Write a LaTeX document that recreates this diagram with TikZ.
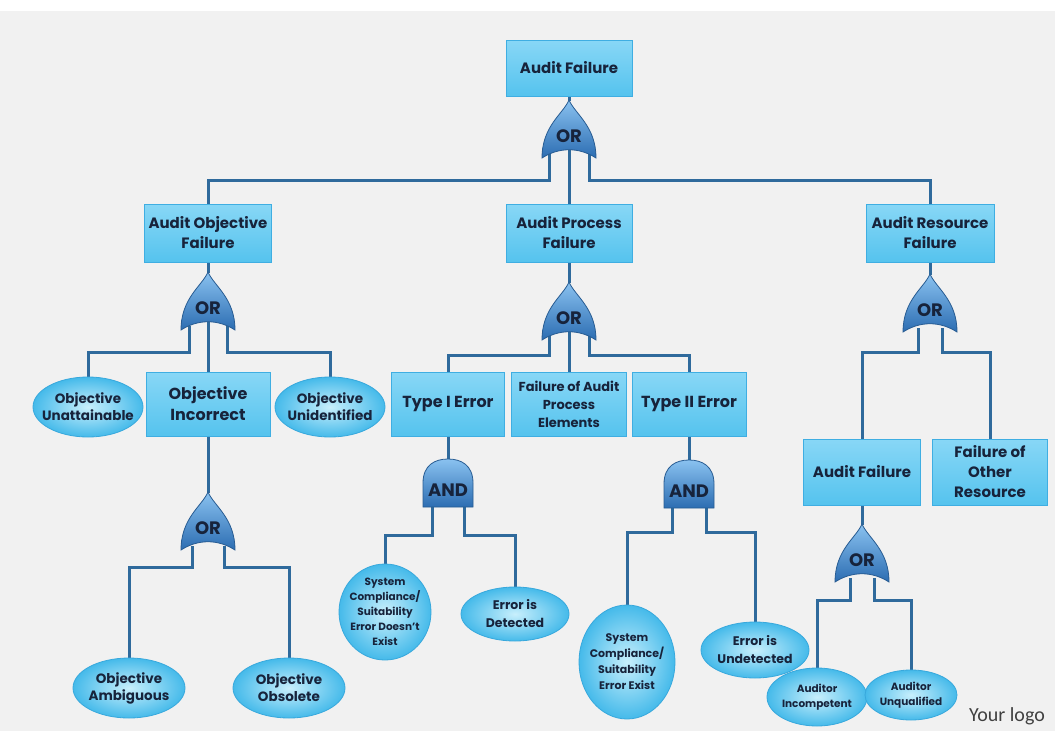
\documentclass[tikz,border=0pt]{standalone}
\usepackage{fontspec}
\setmainfont{Poppins}
\newfontfamily\logofont{Carlito}
\usetikzlibrary{shapes.geometric}

\definecolor{bgc}{HTML}{F1F1F1}
\definecolor{boxtop}{HTML}{88D7F6}
\definecolor{boxbot}{HTML}{55C3EE}
\definecolor{boxedge}{HTML}{3FAEE2}
\definecolor{leafin}{HTML}{C8EFFC}
\definecolor{leafout}{HTML}{45BAEA}
\definecolor{leafedge}{HTML}{38A8DC}
\definecolor{gatetop}{HTML}{8AC2F0}
\definecolor{gatebot}{HTML}{2C6DB2}
\definecolor{gateedge}{HTML}{285C92}
\definecolor{wire}{HTML}{2F6A9C}
\definecolor{ink}{HTML}{17233B}
\definecolor{logoc}{HTML}{404040}

\pgfdeclarelayer{back}
\pgfdeclarelayer{wires}
\pgfsetlayers{back,wires,main}

\tikzset{
  box/.style={rectangle, draw=boxedge, line width=0.8pt,
    top color=boxtop, bottom color=boxbot, text=ink, align=center,
    inner sep=1pt, font=\bfseries\fontsize{15}{20}\selectfont},
  leaf/.style={ellipse, draw=leafedge, line width=0.8pt,
    inner color=leafin, outer color=leafout, text=ink, align=center,
    inner xsep=-14pt, inner ysep=-3pt, font=\bfseries\fontsize{13.5}{17}\selectfont},
  gatefill/.style={draw=gateedge, line width=0.8pt,
    top color=gatetop, bottom color=gatebot},
  gatelabel/.style={text=ink, inner sep=0pt, font=\bfseries\fontsize{18}{18}\selectfont},
  wireline/.style={draw=wire, line width=3pt},
  pics/orgate/.style={code={
    \path[gatefill] (0,0) .. controls (6,14) and (27,26) .. (27,58)
      .. controls (10,47) and (-10,47) .. (-27,58)
      .. controls (-27,26) and (-6,14) .. (0,0) -- cycle;
    \node[gatelabel] (-lbl) at (0,36) {OR};
    \coordinate (-top) at (0,1);
    \coordinate (-c) at (0,50);
    \coordinate (-l) at (-#1,54);
    \coordinate (-r) at (#1,54);
  }},
  pics/andgate/.style={code={
    \path[gatefill] (-25,48) -- (-25,24) .. controls (-25,6) and (-13,0) .. (0,0)
      .. controls (13,0) and (25,6) .. (25,24) -- (25,48) -- cycle;
    \node[gatelabel] (-lbl) at (0,31) {AND};
    \coordinate (-top) at (0,1);
    \coordinate (-l) at (-#1,47);
    \coordinate (-r) at (#1,47);
  }}
}

\begin{document}
\begin{tikzpicture}[x=1pt, y=-1pt]
\useasboundingbox (0,0) rectangle (1055,731);
\begin{pgfonlayer}{back}
  \fill[white] (0,0) rectangle (1055,731);
  \fill[bgc] (0,11) rectangle (1055,731);
\end{pgfonlayer}

% ---- boxes ----
\node[box, minimum width=126pt, minimum height=56pt] (top) at (569,68) {Audit Failure};
\node[box, minimum width=127pt, minimum height=58pt] (aof) at (208,233) {Audit Objective\\Failure};
\node[box, minimum width=126pt, minimum height=58pt] (apf) at (569,233) {Audit Process\\Failure};
\node[box, minimum width=128pt, minimum height=58pt] (arf) at (930,233) {Audit Resource\\Failure};
\node[box, minimum width=124pt, minimum height=64pt,
      font=\bfseries\fontsize{16}{21}\selectfont] (oi) at (208,404) {Objective\\Incorrect};
\node[box, minimum width=113pt, minimum height=64pt,
      font=\bfseries\fontsize{16}{20}\selectfont] (t1) at (448,404) {Type I Error};
\node[box, minimum width=115pt, minimum height=64pt,
      font=\bfseries\fontsize{13}{18}\selectfont] (fape) at (569,404) {Failure of Audit\\Process\\Elements};
\node[box, minimum width=114pt, minimum height=64pt,
      font=\bfseries\fontsize{16}{20}\selectfont] (t2) at (689,404) {Type II Error};
\node[box, minimum width=117pt, minimum height=66pt] (af2) at (862,472) {Audit Failure};
\node[box, minimum width=115pt, minimum height=66pt] (fo) at (990,472) {Failure of\\Other\\Resource};

% ---- leaf events ----
\node[leaf, minimum width=110pt, minimum height=60pt] (ou) at (88,407) {Objective\\Unattainable};
\node[leaf, minimum width=110pt, minimum height=60pt] (oun) at (330,407) {Objective\\Unidentified};
\node[leaf, minimum width=112pt, minimum height=60pt] (oa) at (129,688) {Objective\\Ambiguous};
\node[leaf, minimum width=112pt, minimum height=60pt] (oo) at (289,688) {Objective\\Obsolete};
\node[leaf, minimum width=92pt, minimum height=96pt,
      font=\bfseries\fontsize{10.5}{15}\selectfont] (sc1) at (385,612) {System\\Compliance/\\Suitability\\Error Doesn't\\Exist};
\node[leaf, minimum width=108pt, minimum height=54pt,
      font=\bfseries\fontsize{12.5}{18}\selectfont] (ed) at (515,614) {Error is\\Detected};
\node[leaf, minimum width=96pt, minimum height=114pt,
      font=\bfseries\fontsize{11}{16}\selectfont] (sc2) at (627,662) {System\\Compliance/\\Suitability\\Error Exist};
\node[leaf, minimum width=108pt, minimum height=56pt,
      font=\bfseries\fontsize{12.5}{18}\selectfont] (eu) at (755,650) {Error is\\Undetected};
\node[leaf, minimum width=100pt, minimum height=58pt,
      font=\bfseries\fontsize{10.5}{15}\selectfont] (ai) at (817,697) {Auditor\\Incompetent};
\node[leaf, minimum width=92pt, minimum height=50pt,
      font=\bfseries\fontsize{10.5}{15}\selectfont] (aun) at (911,695) {Auditor\\Unqualified};

% ---- gates ----
\pic (g0) at (569,100) {orgate=20};
\pic (g1) at (208,272) {orgate=19};
\pic (g2) at (569,282) {orgate=20};
\pic (g3) at (208,492) {orgate=16};
\pic (g4) at (930,274) {orgate=12};
\pic (g5) at (862,524) {orgate=12};
\pic (a1) at (448,459) {andgate=16};
\pic (a2) at (689,460) {andgate=17};

% ---- connectors ----
\begin{pgfonlayer}{wires}
\begin{scope}[wireline]
  \draw (top.south) -- (g0-top);
  \draw (g0-c) -- (apf.north);
  \draw (g0-l) -- ++(0,26) -| (aof.north);
  \draw (g0-r) -- ++(0,26) -| (arf.north);

  \draw (aof.south) -- (g1-top);
  \draw (g1-c) -- (oi.north);
  \draw (g1-l) -- ++(0,26) -| (ou.north);
  \draw (g1-r) -- ++(0,26) -| (oun.north);

  \draw (apf.south) -- (g2-top);
  \draw (g2-c) -- (fape.north);
  \draw (g2-l) -- ++(0,19) -| (t1.north);
  \draw (g2-r) -- ++(0,19) -| (t2.north);

  \draw (oi.south) -- (g3-top);
  \draw (g3-l) -- ++(0,21) -| (oa.north);
  \draw (g3-r) -- ++(0,21) -| (oo.north);

  \draw (t1.south) -- (a1-top);
  \draw (a1-l) -- ++(0,29) -| (sc1.north);
  \draw (a1-r) -- ++(0,29) -| (ed.north);

  \draw (t2.south) -- (a2-top);
  \draw (a2-l) -- ++(0,25) -| (sc2.north);
  \draw (a2-r) -- ++(0,25) -| (eu.north);

  \draw (arf.south) -- (g4-top);
  \draw (g4-l) -- ++(0,24) -| (af2.north);
  \draw (g4-r) -- ++(0,24) -| (fo.north);

  \draw (af2.south) -- (g5-top);
  \draw (g5-l) -- ++(0,22) -| (ai.north);
  \draw (g5-r) -- ++(0,22) -| (aun.north);
\end{scope}
\end{pgfonlayer}

\node[text=logoc, font=\logofont\fontsize{20}{20}\selectfont] (logo) at (1007,716) {Your logo};
\end{tikzpicture}
\end{document}
